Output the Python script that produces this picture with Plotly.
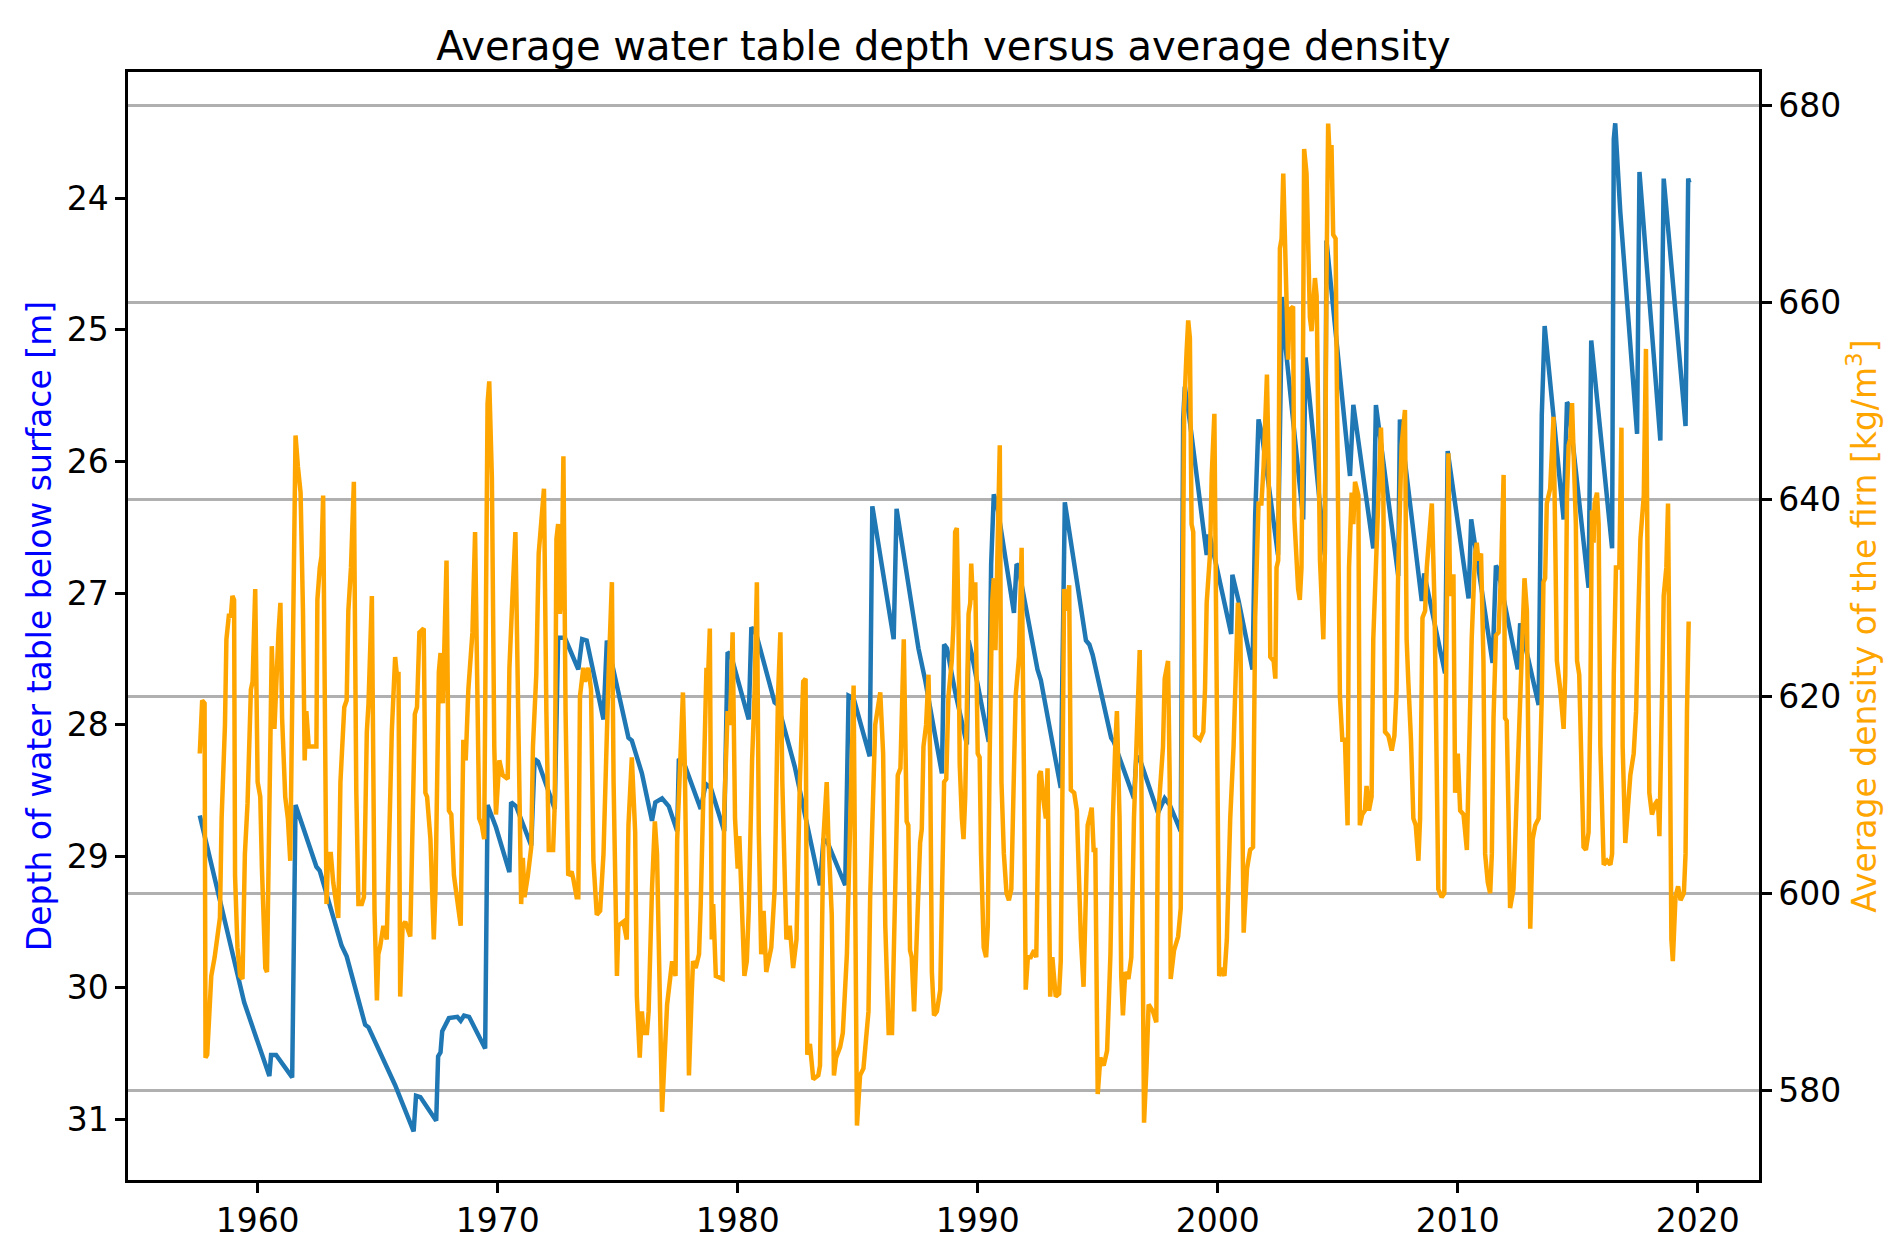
import plotly.graph_objects as go

# water table depth (blue, left axis)
depth_year = [1957.59, 1959.44, 1960.49, 1960.56, 1960.77, 1961.44, 1961.58, 1962.45, 1962.59, 1963.50,
              1963.71, 1964.48, 1964.62, 1965.52, 1965.73, 1966.50, 1966.60, 1966.78, 1967.44, 1967.52,
              1967.62, 1967.69, 1967.97, 1968.32, 1968.46, 1968.60, 1968.81, 1969.48, 1969.58, 1969.93,
              1970.49, 1970.56, 1970.77, 1971.40, 1971.54, 1971.68, 1972.38, 1972.52, 1972.80, 1973.36,
              1973.52, 1973.71, 1974.41, 1974.55, 1974.90, 1975.45, 1975.59, 1976.01, 1976.43, 1976.57,
              1976.85, 1977.13, 1977.48, 1977.55, 1977.76, 1978.46, 1978.67, 1978.88, 1979.44, 1979.54,
              1979.58, 1979.72, 1980.46, 1980.57, 1980.77, 1981.54, 1981.68, 1982.38, 1982.73, 1983.43,
              1983.57, 1983.71, 1984.48, 1984.62, 1984.83, 1985.50, 1985.61, 1986.50, 1986.62, 1987.46,
              1987.53, 1987.81, 1988.51, 1988.60, 1988.72, 1989.06, 1989.55, 1989.62, 1989.76, 1990.46,
              1990.56, 1990.67, 1990.81, 1991.51, 1991.62, 1991.68, 1992.07, 1992.49, 1992.63, 1993.46,
              1993.63, 1994.51, 1994.65, 1994.79, 1995.56, 1995.67, 1996.51, 1996.61, 1996.75, 1997.51,
              1997.79, 1998.00, 1998.46, 1998.56, 1998.63, 1998.84, 1999.54, 1999.61, 1999.68, 2000.56,
              2000.61, 2000.87, 2001.45, 2001.56, 2001.70, 2001.84, 2002.51, 2002.68, 2002.80, 2003.56,
              2003.66, 2004.46, 2004.53, 2005.51, 2005.65, 2006.48, 2006.59, 2007.52, 2007.59, 2008.50,
              2008.60, 2009.47, 2009.58, 2010.45, 2010.56, 2011.45, 2011.59, 2011.67, 2012.50, 2012.60,
              2013.37, 2013.50, 2013.62, 2014.41, 2014.55, 2014.62, 2015.45, 2015.56, 2016.43, 2016.50,
              2016.56, 2016.77, 2017.47, 2017.57, 2018.44, 2018.58, 2019.49, 2019.60, 2019.65]
depth_m = [28.69, 30.11, 30.67, 30.51, 30.51, 30.68, 28.61, 29.08, 29.11, 29.68,
           29.76, 30.28, 30.30, 30.67, 30.74, 31.09, 30.82, 30.83, 31.01, 30.52,
           30.49, 30.33, 30.23, 30.22, 30.25, 30.21, 30.22, 30.46, 28.61, 28.78,
           29.12, 28.59, 28.62, 28.92, 28.26, 28.28, 28.64, 27.34, 27.34, 27.58,
           27.35, 27.36, 27.96, 27.36, 27.66, 28.10, 28.12, 28.37, 28.73, 28.59,
           28.56, 28.62, 28.81, 28.26, 28.29, 28.64, 28.45, 28.48, 28.81, 27.80,
           27.45, 27.47, 27.96, 27.26, 27.31, 27.83, 27.85, 28.32, 28.62, 29.22,
           28.88, 28.88, 29.22, 27.78, 27.80, 28.24, 26.34, 27.35, 26.36, 27.34,
           27.42, 27.66, 28.37, 27.39, 27.42, 27.75, 28.15, 27.36, 27.47, 28.13,
           26.78, 26.25, 26.33, 27.15, 26.78, 26.79, 27.15, 27.58, 27.66, 28.48,
           26.31, 27.36, 27.39, 27.47, 28.10, 28.13, 28.56, 28.24, 28.26, 28.67,
           28.56, 28.61, 28.81, 25.68, 25.43, 25.70, 26.71, 26.57, 26.57, 27.31,
           26.86, 27.06, 27.58, 26.41, 25.68, 25.79, 26.71, 24.75, 25.08, 26.44,
           25.21, 26.71, 24.32, 26.11, 25.57, 26.66, 25.57, 26.87, 25.68, 27.06,
           26.85, 27.61, 25.92, 27.04, 26.44, 27.53, 26.79, 26.82, 27.58, 27.23,
           27.85, 25.65, 24.97, 26.44, 25.55, 25.57, 26.96, 25.08, 26.66, 23.55,
           23.43, 24.10, 25.79, 23.80, 25.84, 23.85, 25.73, 23.85, 23.88]

# firn density (orange, right axis)
dens_year = [1957.59, 1957.69, 1957.79, 1957.83, 1957.90, 1957.97, 1958.07, 1958.21, 1958.29, 1958.43,
             1958.50, 1958.64, 1958.70, 1958.81, 1958.88, 1958.95, 1959.02, 1959.06, 1959.16, 1959.27,
             1959.37, 1959.47, 1959.58, 1959.72, 1959.79, 1959.90, 1960.00, 1960.11, 1960.18, 1960.32,
             1960.39, 1960.49, 1960.59, 1960.70, 1960.80, 1960.87, 1960.95, 1961.02, 1961.15, 1961.26,
             1961.36, 1961.50, 1961.58, 1961.68, 1961.79, 1961.89, 1961.96, 1962.03, 1962.13, 1962.45,
             1962.49, 1962.59, 1962.66, 1962.73, 1962.87, 1962.94, 1963.05, 1963.15, 1963.36, 1963.45,
             1963.61, 1963.71, 1963.78, 1963.89, 1964.01, 1964.11, 1964.20, 1964.34, 1964.43, 1964.55,
             1964.62, 1964.76, 1964.87, 1964.97, 1965.03, 1965.10, 1965.24, 1965.38, 1965.59, 1965.73,
             1965.80, 1965.87, 1965.94, 1966.04, 1966.15, 1966.36, 1966.55, 1966.64, 1966.74, 1966.92,
             1966.99, 1967.06, 1967.20, 1967.34, 1967.41, 1967.55, 1967.62, 1967.72, 1967.78, 1967.87,
             1967.97, 1968.07, 1968.18, 1968.32, 1968.46, 1968.57, 1968.67, 1968.78, 1968.95, 1969.06,
             1969.16, 1969.23, 1969.34, 1969.44, 1969.51, 1969.58, 1969.65, 1969.76, 1969.86, 1969.93,
             1970.07, 1970.21, 1970.42, 1970.49, 1970.63, 1970.74, 1970.80, 1970.98, 1971.05, 1971.12,
             1971.26, 1971.40, 1971.47, 1971.61, 1971.71, 1971.82, 1971.93, 1972.03, 1972.13, 1972.31,
             1972.38, 1972.45, 1972.52, 1972.59, 1972.66, 1972.74, 1972.83, 1972.94, 1973.08, 1973.15,
             1973.29, 1973.36, 1973.43, 1973.57, 1973.64, 1973.78, 1973.89, 1973.99, 1974.13, 1974.27,
             1974.41, 1974.62, 1974.76, 1974.83, 1974.90, 1974.97, 1975.03, 1975.24, 1975.38, 1975.45,
             1975.59, 1975.73, 1975.80, 1975.92, 1976.01, 1976.08, 1976.22, 1976.29, 1976.43, 1976.55,
             1976.64, 1976.71, 1976.85, 1976.96, 1977.06, 1977.27, 1977.41, 1977.48, 1977.62, 1977.72,
             1977.80, 1977.90, 1977.97, 1978.08, 1978.14, 1978.25, 1978.39, 1978.46, 1978.57, 1978.70,
             1978.76, 1978.84, 1978.92, 1978.98, 1979.09, 1979.37, 1979.44, 1979.58, 1979.68, 1979.79,
             1979.89, 1980.00, 1980.07, 1980.17, 1980.28, 1980.38, 1980.46, 1980.60, 1980.70, 1980.80,
             1980.88, 1980.98, 1981.08, 1981.19, 1981.40, 1981.54, 1981.68, 1981.78, 1981.86, 1982.03,
             1982.17, 1982.31, 1982.45, 1982.59, 1982.73, 1982.83, 1982.90, 1983.01, 1983.15, 1983.36,
             1983.43, 1983.57, 1983.71, 1983.78, 1983.92, 1984.01, 1984.10, 1984.27, 1984.38, 1984.55,
             1984.71, 1984.83, 1984.97, 1985.10, 1985.24, 1985.45, 1985.52, 1985.73, 1985.94, 1986.06,
             1986.15, 1986.29, 1986.43, 1986.57, 1986.67, 1986.78, 1986.92, 1987.04, 1987.11, 1987.18,
             1987.25, 1987.35, 1987.46, 1987.53, 1987.60, 1987.67, 1987.74, 1987.85, 1987.95, 1988.02,
             1988.09, 1988.18, 1988.30, 1988.44, 1988.51, 1988.60, 1988.69, 1988.78, 1988.92, 1988.99,
             1989.06, 1989.13, 1989.20, 1989.25, 1989.34, 1989.41, 1989.48, 1989.55, 1989.62, 1989.69,
             1989.73, 1989.80, 1989.90, 1990.00, 1990.08, 1990.14, 1990.25, 1990.35, 1990.42, 1990.50,
             1990.60, 1990.67, 1990.74, 1990.81, 1990.92, 1990.99, 1991.09, 1991.20, 1991.30, 1991.40,
             1991.48, 1991.58, 1991.72, 1991.83, 1991.93, 1992.00, 1992.09, 1992.21, 1992.35, 1992.44,
             1992.56, 1992.63, 1992.72, 1992.84, 1992.91, 1993.02, 1993.11, 1993.25, 1993.39, 1993.46,
             1993.53, 1993.60, 1993.72, 1993.81, 1993.88, 1994.02, 1994.13, 1994.30, 1994.41, 1994.51,
             1994.58, 1994.69, 1994.75, 1994.83, 1994.90, 1995.00, 1995.11, 1995.25, 1995.39, 1995.53,
             1995.63, 1995.73, 1995.80, 1995.91, 1995.98, 1996.05, 1996.15, 1996.28, 1996.40, 1996.51,
             1996.65, 1996.75, 1996.82, 1996.89, 1996.93, 1997.03, 1997.12, 1997.30, 1997.44, 1997.51,
             1997.63, 1997.72, 1997.79, 1997.93, 1998.00, 1998.04, 1998.18, 1998.35, 1998.46, 1998.52,
             1998.60, 1998.70, 1998.77, 1998.84, 1998.91, 1998.98, 1999.05, 1999.26, 1999.40, 1999.47,
             1999.54, 1999.68, 1999.75, 1999.86, 1999.92, 2000.00, 2000.06, 2000.17, 2000.28, 2000.38,
             2000.52, 2000.66, 2000.75, 2000.84, 2000.94, 2001.01, 2001.08, 2001.22, 2001.35, 2001.47,
             2001.56, 2001.70, 2001.82, 2001.91, 2002.05, 2002.12, 2002.19, 2002.33, 2002.40, 2002.45,
             2002.52, 2002.59, 2002.66, 2002.73, 2002.80, 2002.87, 2002.93, 2003.00, 2003.14, 2003.19,
             2003.28, 2003.35, 2003.42, 2003.49, 2003.53, 2003.60, 2003.70, 2003.77, 2003.84, 2003.91,
             2003.98, 2004.05, 2004.12, 2004.19, 2004.26, 2004.40, 2004.46, 2004.53, 2004.60, 2004.67,
             2004.74, 2004.81, 2004.91, 2004.95, 2005.09, 2005.19, 2005.30, 2005.41, 2005.47, 2005.58,
             2005.65, 2005.72, 2005.86, 2005.92, 2006.02, 2006.13, 2006.20, 2006.30, 2006.41, 2006.48,
             2006.55, 2006.69, 2006.80, 2006.90, 2006.97, 2007.11, 2007.25, 2007.36, 2007.45, 2007.52,
             2007.66, 2007.80, 2007.87, 2007.94, 2008.05, 2008.15, 2008.25, 2008.36, 2008.43, 2008.53,
             2008.64, 2008.71, 2008.80, 2008.92, 2009.03, 2009.12, 2009.19, 2009.33, 2009.44, 2009.50,
             2009.61, 2009.68, 2009.82, 2009.89, 2010.00, 2010.10, 2010.24, 2010.38, 2010.47, 2010.58,
             2010.72, 2010.79, 2010.86, 2010.97, 2011.07, 2011.14, 2011.25, 2011.35, 2011.42, 2011.49,
             2011.59, 2011.70, 2011.81, 2011.91, 2011.97, 2012.04, 2012.11, 2012.18, 2012.32, 2012.42,
             2012.53, 2012.67, 2012.78, 2012.88, 2012.95, 2013.02, 2013.12, 2013.23, 2013.37, 2013.50,
             2013.57, 2013.64, 2013.71, 2013.85, 2013.99, 2014.13, 2014.27, 2014.41, 2014.48, 2014.55,
             2014.62, 2014.69, 2014.76, 2014.83, 2014.92, 2014.97, 2015.06, 2015.17, 2015.24, 2015.34,
             2015.45, 2015.52, 2015.59, 2015.66, 2015.70, 2015.80, 2015.87, 2015.94, 2016.01, 2016.08,
             2016.22, 2016.36, 2016.43, 2016.50, 2016.59, 2016.73, 2016.82, 2016.87, 2016.98, 2017.09,
             2017.19, 2017.33, 2017.43, 2017.51, 2017.61, 2017.75, 2017.84, 2017.93, 2017.98, 2018.09,
             2018.23, 2018.34, 2018.40, 2018.51, 2018.58, 2018.69, 2018.76, 2018.82, 2018.90, 2018.96,
             2019.07, 2019.18, 2019.28, 2019.42, 2019.49, 2019.55, 2019.62]
dens_kgm3 = [614.2, 619.6, 619.3, 583.3, 583.6, 586.5, 591.6, 593.5, 595.3, 597.5,
             607.6, 617.1, 625.8, 628.4, 628.0, 630.2, 629.8, 601.8, 594.5, 591.6,
             591.3, 604.0, 609.1, 620.7, 621.5, 630.9, 611.3, 609.8, 602.5, 592.4,
             592.0, 609.1, 625.1, 616.7, 624.4, 626.5, 629.5, 617.8, 609.8, 607.6,
             603.3, 627.3, 646.5, 643.3, 640.7, 628.7, 613.5, 618.5, 614.9, 614.9,
             629.8, 633.1, 634.2, 640.4, 598.9, 604.0, 604.0, 601.1, 597.5, 611.3,
             618.9, 619.6, 628.7, 633.1, 641.8, 610.5, 598.9, 598.9, 599.6, 616.4,
             619.3, 630.2, 598.2, 589.1, 593.8, 594.5, 596.7, 595.3, 616.4, 624.0,
             622.2, 622.5, 589.5, 596.7, 597.1, 595.6, 618.2, 618.9, 626.5, 626.9,
             610.2, 609.8, 605.5, 595.3, 600.4, 622.5, 624.4, 619.3, 625.1, 633.8,
             608.4, 608.0, 601.8, 599.6, 596.7, 615.6, 613.5, 620.7, 626.5, 636.7,
             614.2, 607.6, 606.9, 605.5, 628.0, 649.8, 652.0, 642.2, 614.9, 608.0,
             613.5, 612.0, 611.6, 622.9, 630.9, 636.7, 627.3, 598.9, 603.6, 599.6,
             601.8, 604.7, 614.9, 622.2, 634.5, 637.5, 641.1, 618.5, 604.4, 604.4,
             609.1, 636.0, 637.5, 628.4, 630.2, 644.4, 618.5, 601.8, 602.2, 601.5,
             599.6, 599.6, 620.0, 622.9, 621.5, 622.9, 620.7, 603.3, 597.8, 598.2,
             604.0, 622.2, 631.6, 611.3, 596.7, 591.6, 596.7, 597.1, 595.3, 606.9,
             613.8, 606.2, 589.5, 583.3, 588.0, 585.8, 585.8, 588.0, 600.4, 607.3,
             604.0, 593.1, 577.8, 583.6, 588.7, 593.1, 591.6, 605.5, 614.2, 620.4,
             612.7, 589.5, 581.5, 589.5, 593.1, 592.4, 593.8, 598.9, 611.3, 622.9,
             621.5, 626.9, 595.3, 598.9, 591.6, 591.3, 608.4, 618.5, 617.1, 626.5,
             607.6, 602.5, 605.8, 597.5, 591.6, 593.1, 598.2, 613.5, 620.0, 631.6,
             606.2, 593.8, 598.2, 592.0, 594.5, 600.4, 620.0, 626.5, 611.3, 595.3,
             596.7, 592.4, 595.3, 611.3, 621.5, 621.8, 583.6, 584.7, 581.1, 581.5,
             582.5, 605.5, 611.3, 605.5, 597.8, 581.5, 583.3, 584.4, 585.8, 593.8,
             609.8, 621.1, 576.4, 581.5, 582.2, 588.0, 599.6, 617.1, 620.4, 614.2,
             596.7, 585.8, 585.8, 600.4, 612.0, 612.7, 625.8, 607.3, 606.9, 594.2,
             593.5, 588.0, 596.7, 602.5, 605.1, 606.5, 614.9, 617.1, 622.2, 613.8,
             592.0, 587.6, 588.0, 590.2, 597.5, 611.3, 611.6, 620.0, 623.6, 627.3,
             636.7, 637.1, 627.3, 613.1, 607.6, 605.5, 609.8, 618.5, 628.4, 629.5,
             633.5, 629.8, 631.6, 614.2, 613.8, 604.0, 594.5, 593.5, 596.7, 614.2,
             629.5, 632.0, 624.7, 633.1, 645.5, 611.3, 604.0, 600.0, 599.3, 600.4,
             609.1, 620.0, 624.0, 635.1, 611.3, 590.2, 593.5, 593.5, 594.2, 593.5,
             612.0, 612.4, 609.8, 607.6, 612.7, 589.5, 593.5, 589.5, 589.8, 593.1,
             610.5, 630.9, 628.7, 631.3, 610.5, 610.2, 608.4, 595.3, 590.5, 598.9,
             606.9, 608.0, 608.7, 604.4, 604.4, 579.6, 583.3, 582.5, 584.0, 593.8,
             607.6, 614.9, 618.5, 607.6, 591.6, 587.6, 592.0, 591.3, 593.5, 607.6,
             616.4, 624.7, 611.3, 583.6, 576.7, 582.2, 588.7, 588.0, 586.9, 607.6,
             611.3, 614.9, 621.8, 623.6, 611.3, 591.3, 594.2, 595.6, 598.5, 618.5,
             649.1, 654.9, 658.2, 656.4, 637.5, 636.7, 616.0, 615.6, 616.4, 620.7,
             629.5, 634.5, 642.5, 648.7, 633.1, 611.3, 591.6, 592.4, 591.6, 595.3,
             607.6, 614.9, 621.5, 629.5, 627.3, 609.8, 596.0, 602.5, 604.4, 604.7,
             628.0, 639.6, 639.6, 643.3, 652.7, 643.3, 624.0, 623.6, 621.8, 633.1,
             633.8, 665.5, 666.5, 673.1, 665.1, 656.4, 654.2, 659.3, 659.6, 638.2,
             633.1, 630.9, 629.8, 633.1, 644.0, 675.6, 673.1, 662.2, 658.5, 657.1,
             659.3, 662.5, 660.7, 646.2, 633.8, 625.8, 634.5, 662.2, 678.2, 674.5,
             676.0, 666.9, 666.5, 654.9, 620.0, 615.6, 615.6, 606.9, 633.1, 640.7,
             637.5, 641.8, 640.4, 606.9, 608.0, 608.4, 610.9, 608.4, 609.8, 625.8,
             630.2, 640.4, 647.3, 640.4, 616.4, 616.0, 614.5, 616.0, 620.7, 633.1,
             645.5, 649.1, 625.8, 621.5, 615.6, 607.6, 606.9, 603.3, 607.6, 628.0,
             628.7, 633.1, 636.0, 639.6, 629.5, 611.3, 600.4, 599.6, 600.0, 618.5,
             644.7, 630.2, 632.4, 610.2, 614.2, 608.4, 608.0, 604.4, 614.9, 625.8,
             634.5, 635.6, 633.8, 634.5, 623.6, 604.0, 601.1, 600.0, 604.0, 617.8,
             626.2, 626.5, 633.1, 642.5, 617.8, 617.5, 608.7, 598.5, 600.4, 606.9,
             617.1, 623.6, 632.0, 628.7, 614.9, 596.4, 605.5, 606.9, 607.6, 620.0,
             631.6, 632.0, 639.6, 641.1, 648.4, 623.6, 620.7, 616.7, 622.2, 640.4,
             645.5, 646.2, 649.8, 645.5, 637.5, 623.6, 622.2, 611.3, 604.7, 604.4,
             606.2, 618.5, 638.9, 635.6, 639.6, 640.7, 637.5, 614.9, 607.6, 602.9,
             603.3, 602.9, 604.0, 622.2, 633.1, 633.1, 647.3, 614.9, 605.1, 609.1,
             612.0, 614.2, 618.5, 627.3, 636.0, 640.4, 655.3, 625.8, 610.2, 608.0,
             609.1, 609.5, 605.8, 620.0, 630.2, 633.1, 639.6, 622.2, 595.3, 593.1,
             599.6, 600.7, 599.3, 600.0, 604.0, 618.5, 627.6]

year_ticks = [1960, 1970, 1980, 1990, 2000, 2010, 2020]
depth_ticks = [24, 25, 26, 27, 28, 29, 30, 31]
dens_ticks = [580, 600, 620, 640, 660, 680]

FONT = "DejaVu Sans"

fig = go.Figure()

fig.add_trace(go.Scatter(x=depth_year, y=depth_m, mode="lines",
                         line=dict(color="#1f77b4", width=4.5), yaxis="y"))
fig.add_trace(go.Scatter(x=dens_year, y=dens_kgm3, mode="lines",
                         line=dict(color="#FFA500", width=4.5), yaxis="y2"))

axis_common = dict(showline=True, linecolor="black", linewidth=2.5,
                   ticks="outside", ticklen=10, tickwidth=2.5, tickcolor="black",
                   tickfont=dict(family=FONT, size=33, color="black"),
                   zeroline=False)

fig.update_layout(
    width=1892, height=1244,
    margin=dict(l=120, r=141, t=64, b=62),
    paper_bgcolor="white", plot_bgcolor="white",
    showlegend=False,
    font=dict(family=FONT, color="black"),
    title=dict(text="Average water table depth versus average density",
               font=dict(family=FONT, size=40, color="black"),
               xref="paper", x=0.5, xanchor="center", y=1 - 38 / 1244, yanchor="middle"),
    xaxis=dict(range=[1954.6, 2022.55], tickvals=year_ticks, showgrid=False,
               mirror=True, **axis_common),
    yaxis=dict(range=[31.46, 23.04], tickvals=depth_ticks, showgrid=False,
               title=dict(text="Depth of water table below surface [m]",
                          font=dict(family=FONT, size=33, color="blue"), standoff=6),
               **axis_common),
    yaxis2=dict(range=[570.87, 683.43], tickvals=dens_ticks, overlaying="y", side="right",
                showgrid=True, gridcolor="#b0b0b0", gridwidth=2.5,
                title=dict(text="Average density of the firn [kg/m<sup>3</sup>]",
                           font=dict(family=FONT, size=33, color="#FFA500"), standoff=1),
                **axis_common),
)

fig.write_html("out.html")
